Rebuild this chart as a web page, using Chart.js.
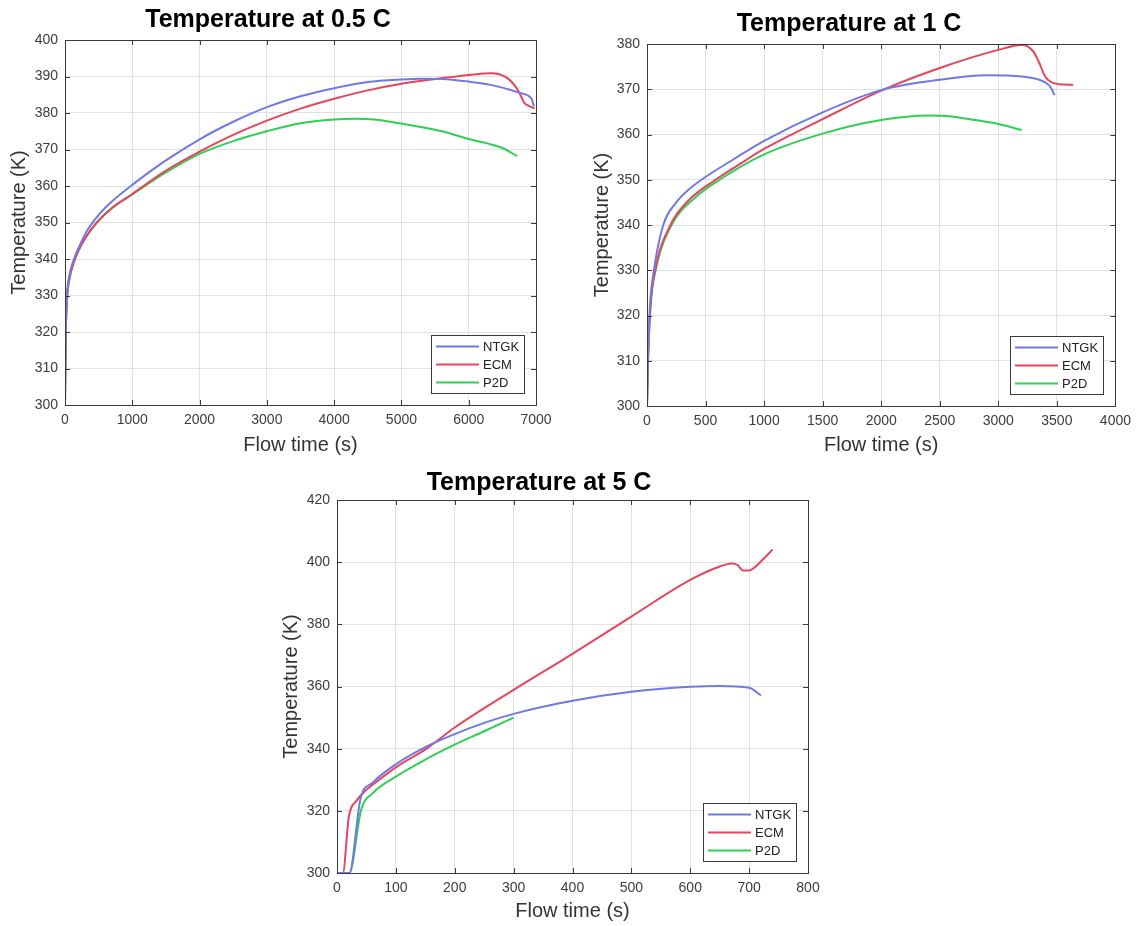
<!DOCTYPE html>
<html>
<head>
<meta charset="utf-8">
<script src="https://cdn.jsdelivr.net/npm/chart.js@4.4.1/dist/chart.umd.min.js"></script>
<style>
  body { margin: 0; background: #fff; width: 1138px; height: 926px; position: relative; overflow: hidden; }
  canvas { position: absolute; }
</style>
</head>
<body>
<canvas id="c05" width="560" height="460" style="left:0;top:0"></canvas>
<canvas id="c1" width="558" height="460" style="left:580px;top:0"></canvas>
<canvas id="c5" width="560" height="466" style="left:270px;top:460px"></canvas>
<script>
// series shared by the three plots
const seriesNames = ['NTGK', 'ECM', 'P2D'];

// 0.5 C
const tNtgk05 = [0, 10, 30, 60, 134, 200, 300, 372, 520, 700, 1000, 1500, 2000, 2500, 3000, 3500, 4000, 4500, 5000, 5300, 5600, 6000, 6330, 6780, 6930, 6970];
const ntgk05 = [300, 318, 330, 335, 340, 343, 346.8, 349, 352.5, 355.8, 360.3, 367, 372.8, 377.6, 381.6, 384.6, 386.8, 388.5, 389.2, 389.4, 389.3, 388.6, 387.7, 385.4, 384, 381.8];
const tEcm05 = [0, 10, 30, 60, 149, 200, 300, 472, 700, 1000, 1500, 2000, 2500, 3000, 3500, 4000, 4500, 5000, 5500, 6000, 6330, 6580, 6730, 6830, 6900, 6980];
const ecm05 = [300, 318, 329, 334, 340, 342.3, 345.7, 350, 354, 357.8, 364.2, 369.4, 374, 377.9, 381.2, 383.9, 386.2, 388, 389.3, 390.4, 390.9, 389.5, 386.3, 382.7, 381.9, 381.3];
const tP2d05 = [0, 10, 30, 60, 149, 200, 300, 472, 700, 1000, 1500, 2000, 2500, 3000, 3500, 4000, 4300, 4600, 5000, 5600, 6000, 6500, 6720];
const p2d05 = [300, 318, 329, 334, 340, 342.3, 345.7, 350, 354, 357.7, 363.7, 368.8, 372.3, 375, 377.2, 378.2, 378.4, 378.2, 377.1, 375, 372.9, 370.4, 368.2];

// 1 C
const tNtgk1 = [0, 10, 25, 59, 139, 250, 350, 465, 750, 1000, 1500, 2000, 2500, 2900, 3200, 3400, 3450, 3480];
const ntgk1 = [300, 312, 322, 330, 340, 345, 347.7, 350, 354.7, 358.6, 364.9, 369.8, 372.1, 373.1, 372.8, 371.5, 370.3, 368.7];
const tEcm1 = [0, 10, 30, 70, 200, 350, 586, 800, 1000, 1500, 2000, 2500, 3000, 3200, 3250, 3300, 3350, 3400, 3450, 3520, 3640];
const ecm1 = [300, 311, 322, 330, 340, 345.3, 350, 353.6, 356.8, 363.4, 369.7, 374.7, 378.7, 379.8, 379.5, 378.3, 375.8, 372.8, 371.6, 371.1, 371.0];
const tP2d1 = [0, 10, 30, 74, 210, 400, 620, 1000, 1500, 2000, 2400, 2600, 2800, 3000, 3200];
const p2d1 = [300, 311, 322, 330, 340, 345.8, 350, 355.6, 360.2, 363.2, 364.2, 364.0, 363.2, 362.3, 361.0];

// 5 C
const tNtgk5 = [0, 21, 40, 60, 100, 150, 200, 250, 300, 400, 500, 600, 650, 700, 720];
const ntgk5 = [300, 300, 324, 329, 335, 340.5, 344.7, 348.3, 351.2, 355.4, 358.3, 359.9, 360.2, 359.6, 357.1];
const tEcm5 = [0, 10, 20, 33, 45, 60, 100, 152, 200, 300, 400, 500, 600, 650, 670, 680, 690, 700, 710, 720, 740];
const ecm5 = [300, 300, 318, 323.2, 325.9, 328.3, 334, 340, 346.8, 358.9, 370.5, 382.5, 394.3, 398.6, 399.6, 399.1, 397.3, 397.3, 398.4, 400.2, 404.1];
const tP2d5 = [0, 21, 41, 62, 100, 150, 200, 250, 300];
const p2d5 = [300, 300, 320.3, 325.9, 331, 336.5, 341.3, 345.6, 350];

const seriesColors = ['#7079e3', '#e6455c', '#2fcf56'];
const fontFamily = '"Liberation Sans", Arial, sans-serif';
const boxColor = '#3a3a3a';

// box round the axes, inward ticks and the legend in the lower right corner
const framePlugin = {
  id: 'frame',
  afterDatasetsDraw(chart) {
    const { ctx, chartArea: a, scales } = chart;
    ctx.save();
    ctx.strokeStyle = boxColor;
    ctx.lineWidth = 1;
    ctx.beginPath();
    scales.x.ticks.forEach(t => {
      const px = Math.round(scales.x.getPixelForValue(t.value)) + 0.5;
      ctx.moveTo(px, a.bottom); ctx.lineTo(px, a.bottom - 5);
      ctx.moveTo(px, a.top); ctx.lineTo(px, a.top + 5);
    });
    scales.y.ticks.forEach(t => {
      const py = Math.round(scales.y.getPixelForValue(t.value)) + 0.5;
      ctx.moveTo(a.left, py); ctx.lineTo(a.left + 5, py);
      ctx.moveTo(a.right, py); ctx.lineTo(a.right - 5, py);
    });
    ctx.stroke();
    ctx.strokeRect(Math.round(a.left) + 0.5, Math.round(a.top) + 0.5, Math.round(a.right - a.left), Math.round(a.bottom - a.top));

    // legend
    const sets = chart.data.datasets;
    ctx.font = '13px ' + fontFamily;
    const textW = Math.max(...sets.map(d => ctx.measureText(d.label).width));
    const rowH = 18;
    const w = 5 + 43 + 4 + textW + 5;
    const h = sets.length * rowH + 4;
    const x = Math.round(a.right - 12 - w);
    const y = Math.round(a.bottom - 12 - h);
    ctx.fillStyle = '#fff';
    ctx.fillRect(x, y, w, h);
    ctx.strokeStyle = boxColor;
    ctx.strokeRect(x + 0.5, y + 0.5, Math.round(w), h);
    sets.forEach((d, i) => {
      const cy = y + 2.5 + rowH * (i + 0.5);
      ctx.strokeStyle = d.borderColor;
      ctx.lineWidth = 2;
      ctx.beginPath();
      ctx.moveTo(x + 5, cy); ctx.lineTo(x + 48, cy);
      ctx.stroke();
      ctx.fillStyle = '#222';
      ctx.textBaseline = 'middle';
      ctx.textAlign = 'left';
      ctx.fillText(d.label, x + 52, cy + 0.5);
    });
    ctx.restore();
  }
};

function buildChart(id, title, times, temps, axis, lay) {
  const datasets = seriesNames.map((name, i) => ({
    label: name,
    data: times[i].map((t, j) => ({ x: t, y: temps[i][j] })),
    borderColor: seriesColors[i],
    borderWidth: 2,
    pointRadius: 0,
    cubicInterpolationMode: 'monotone',
    fill: false
  }));
  const tickFont = { family: fontFamily, size: 14 };
  const axisTitleFont = { family: fontFamily, size: 20 };
  new Chart(document.getElementById(id), {
    type: 'line',
    data: { datasets },
    options: {
      responsive: false,
      animation: false,
      devicePixelRatio: 1,
      layout: { padding: { left: 0, right: lay.right, top: 0, bottom: 0 } },
      plugins: {
        legend: { display: false },
        tooltip: { enabled: false },
        title: {
          display: true, text: title, color: '#000',
          font: { family: fontFamily, size: 25, weight: 'bold' },
          padding: { top: lay.titleTop, bottom: lay.titleBottom }
        }
      },
      scales: {
        x: {
          type: 'linear', min: 0, max: axis.xMax,
          ticks: { stepSize: axis.xStep, callback: v => String(v), color: '#3c3c3c', font: tickFont, padding: 7, maxRotation: 0, autoSkip: false },
          grid: { color: '#e1e1e1', drawTicks: false },
          border: { display: false },
          title: { display: true, text: 'Flow time (s)', color: '#333', font: axisTitleFont, padding: { top: 0, bottom: lay.xTitle } },
          afterFit: s => { s.height = lay.bottom; }
        },
        y: {
          type: 'linear', min: axis.yMin, max: axis.yMax,
          ticks: { stepSize: axis.yStep, callback: v => String(v), color: '#3c3c3c', font: tickFont, padding: 7 },
          grid: { color: '#e1e1e1', drawTicks: false },
          border: { display: false },
          title: { display: true, text: 'Temperature (K)', color: '#333', font: axisTitleFont, padding: { top: lay.yTitle, bottom: 0 } },
          afterFit: s => { s.width = lay.left; }
        }
      }
    },
    plugins: [framePlugin]
  });
}

buildChart('c05', 'Temperature at 0.5 C',
  [tNtgk05, tEcm05, tP2d05], [ntgk05, ecm05, p2d05],
  { xMax: 7000, xStep: 1000, yMin: 300, yMax: 400, yStep: 10 },
  { left: 65, right: 24, titleTop: 5, titleBottom: 5, bottom: 55, xTitle: 3, yTitle: 7 });

buildChart('c1', 'Temperature at 1 C',
  [tNtgk1, tEcm1, tP2d1], [ntgk1, ecm1, p2d1],
  { xMax: 4000, xStep: 500, yMin: 300, yMax: 380, yStep: 10 },
  { left: 67, right: 20, titleTop: 9, titleBottom: 5, bottom: 54, xTitle: 3, yTitle: 10 });

buildChart('c5', 'Temperature at 5 C',
  [tNtgk5, tEcm5, tP2d5], [ntgk5, ecm5, p2d5],
  { xMax: 800, xStep: 100, yMin: 300, yMax: 420, yStep: 20 },
  { left: 67, right: 22, titleTop: 8, titleBottom: 2, bottom: 53, xTitle: 3, yTitle: 9 });
</script>
</body>
</html>
